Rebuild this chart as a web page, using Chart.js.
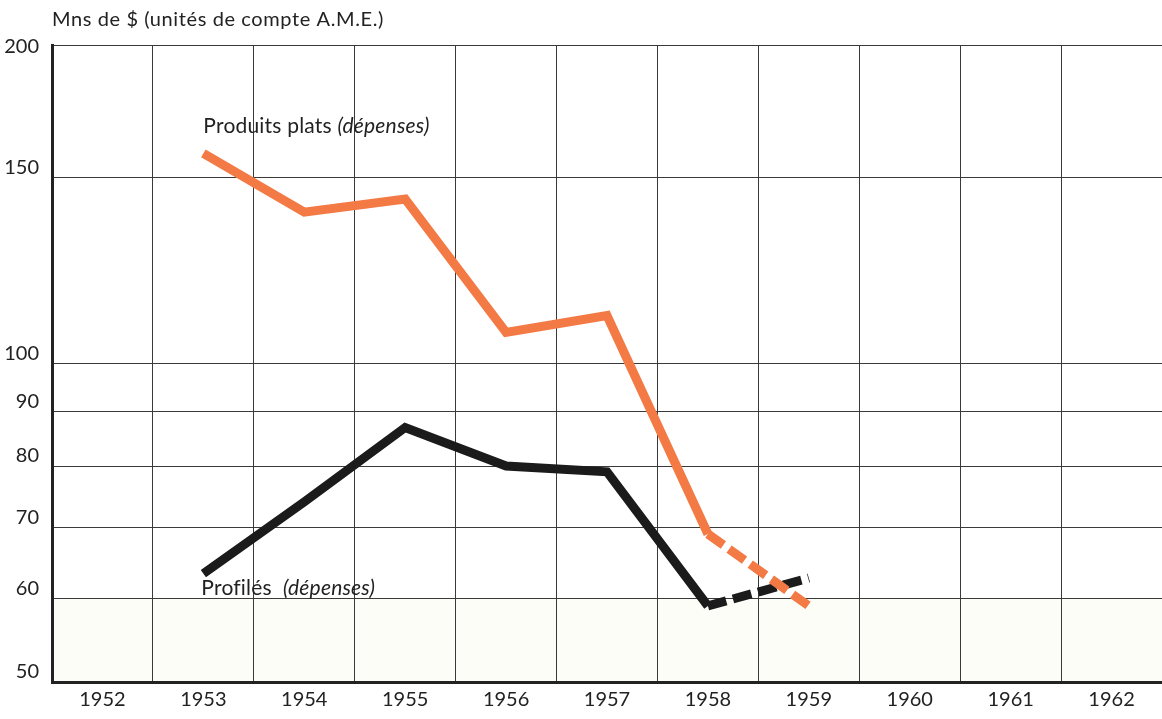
<!DOCTYPE html>
<html>
<head>
<meta charset="utf-8">
<script src="https://cdn.jsdelivr.net/npm/chart.js@4/dist/chart.umd.min.js"></script>
<style>
  html, body { margin: 0; padding: 0; background: #fff; }
  #wrap { width: 1162px; height: 719px; position: relative; }
</style>
</head>
<body>
<div id="wrap"><canvas id="chart"></canvas></div>
<script>
const years = ['1952', '1953', '1954', '1955', '1956', '1957', '1958', '1959', '1960', '1961', '1962'];
const produitsPlats = [null, 158, 139, 143, 107, 111, 69, 59, null, null, null];
const profiles = [null, 63.3, 74, 87, 80, 79, 59, 62.7, null, null, null];
const yTicks = [50, 60, 70, 80, 90, 100, 150, 200];

const FONT = "Lato, 'Open Sans', sans-serif";
const DASH_FROM = 6; // 1958 -> 1959 en pointillés

// fond légèrement crème sous 60
const bandPlugin = {
  id: 'band',
  beforeDraw(chart) {
    const { ctx, chartArea: a, scales: { y } } = chart;
    ctx.save();
    ctx.fillStyle = '#fdfdf8';
    const top = y.getPixelForValue(60);
    ctx.fillRect(a.left, top, a.right - a.left, a.bottom - top);
    ctx.restore();
  }
};

// titre + étiquettes des courbes
const textPlugin = {
  id: 'texts',
  afterDraw(chart) {
    const { ctx, scales: { x, y } } = chart;
    ctx.save();
    ctx.fillStyle = '#222';
    ctx.textBaseline = 'alphabetic';
    ctx.font = `20px ${FONT}`;
    ctx.letterSpacing = '0.6px';
    ctx.fillText('Mns de $ (unités de compte A.M.E.)', 52, 26);

    const drawLabel = (plain, italic, px, py) => {
      ctx.font = `21px ${FONT}`;
      ctx.letterSpacing = '0.2px';
      ctx.fillText(plain, px, py);
      const w = ctx.measureText(plain).width;
      ctx.font = `italic 21px ${FONT}`;
      ctx.fillText(italic, px + w, py);
    };
    drawLabel('Produits plats ', '(dépenses)', x.getPixelForValue(1), y.getPixelForValue(165));
    drawLabel('Profilés  ', '(dépenses)', x.getPixelForValue(1) - 2, y.getPixelForValue(60.4));
    ctx.restore();
  }
};

const ctx = document.getElementById('chart').getContext('2d');
new Chart(ctx, {
  type: 'line',
  data: {
    labels: years,
    datasets: [
      {
        label: 'Produits plats (dépenses)',
        data: produitsPlats,
        borderColor: '#f47a45',
        borderWidth: 9,
        pointRadius: 0,
        borderJoinStyle: 'miter',
        borderCapStyle: 'butt',
        segment: { borderDash: c => c.p0DataIndex === DASH_FROM ? [19, 7] : undefined }
      },
      {
        label: 'Profilés (dépenses)',
        data: profiles,
        borderColor: '#1b1b1b',
        borderWidth: 9,
        pointRadius: 0,
        borderJoinStyle: 'miter',
        borderCapStyle: 'butt',
        segment: { borderDash: c => c.p0DataIndex === DASH_FROM ? [19, 7] : undefined }
      }
    ]
  },
  options: {
    responsive: true,
    maintainAspectRatio: false,
    animation: false,
    layout: { padding: { top: 45, right: 0, left: 0, bottom: 0 } },
    plugins: { legend: { display: false }, tooltip: { enabled: false } },
    scales: {
      x: {
        offset: true,
        grid: { offset: true, color: '#3a3a3a', lineWidth: 1, drawTicks: false },
        border: { color: '#222', width: 3 },
        ticks: { color: '#222', font: { family: FONT, size: 20 }, padding: 6, maxRotation: 0 },
        afterFit(s) { s.height = 37; }
      },
      y: {
        type: 'logarithmic',
        min: 50,
        max: 200,
        afterBuildTicks(s) { s.ticks = yTicks.map(v => ({ value: v })); },
        grid: { color: '#3a3a3a', lineWidth: 1, drawTicks: false },
        border: { color: '#222', width: 3 },
        ticks: {
          color: '#222',
          font: { family: FONT, size: 20, lineHeight: 1.2 },
          padding: 13,
          labelOffset: -10,
          // le 200 est posé sous la ligne du haut
          callback: v => v === 200 ? ['', '200'] : String(v)
        },
        afterFit(s) { s.width = 52; }
      }
    }
  },
  plugins: [bandPlugin, textPlugin]
});
</script>
</body>
</html>
